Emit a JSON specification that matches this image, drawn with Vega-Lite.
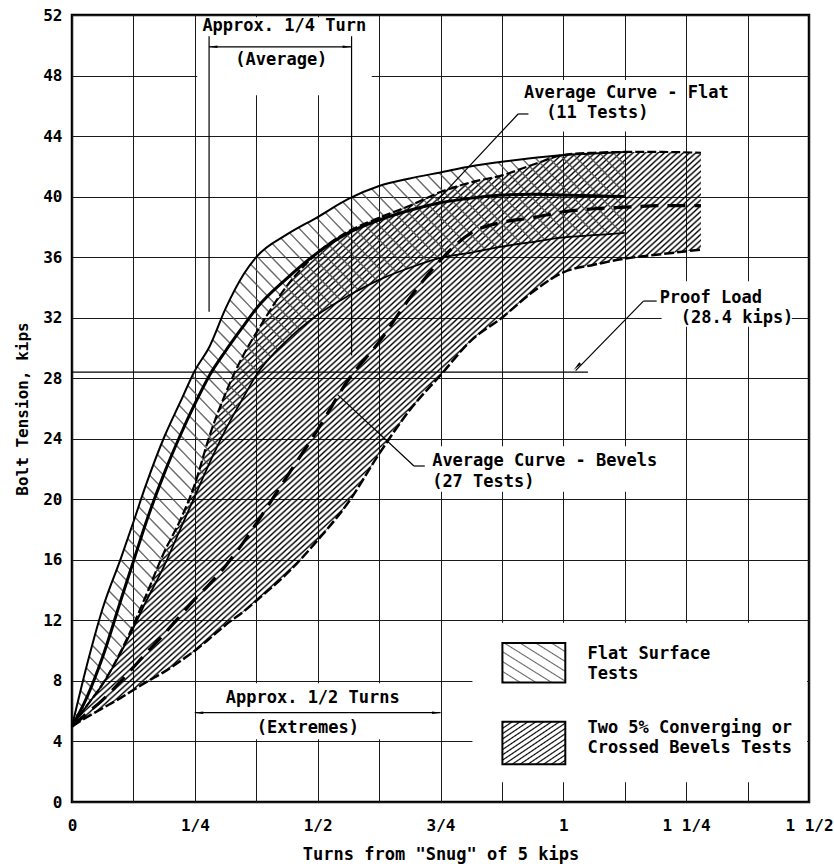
{
  "$schema": "https://vega.github.io/schema/vega-lite/v6.json",
  "width": 737,
  "height": 787,
  "autosize": {"type": "none"},
  "padding": {"left": 72, "top": 15, "right": 25, "bottom": 62},
  "background": "#ffffff",
  "config": {
    "view": {"stroke": "#000000", "strokeWidth": 2.5},
    "font": "DejaVu Sans Mono"
  },
  "datasets": {
    "bands": [
      {"t": 0, "fu": 5, "fa": 5, "fl": 5, "bu": 5, "ba": 5, "bl": 5},
      {"t": 0.03, "fu": 9.0, "fa": 6.9, "fl": 6.35, "bu": 6.35, "ba": 5.85, "bl": 5.6},
      {"t": 0.0625, "fu": 12.8, "fa": 9.6, "fl": 7.8, "bu": 7.8, "ba": 6.75, "bl": 6.2},
      {"t": 0.1, "fu": 16.15, "fa": 13.4, "fl": 9.9, "bu": 10.0, "ba": 8.0, "bl": 6.9},
      {"t": 0.125, "fu": 18.5, "fa": 15.9, "fl": 11.5, "bu": 11.7, "ba": 8.9, "bl": 7.4},
      {"t": 0.15, "fu": 20.9, "fa": 18.4, "fl": 13.2, "bu": 13.6, "ba": 9.8, "bl": 7.9},
      {"t": 0.1875, "fu": 24.1, "fa": 21.7, "fl": 15.6, "bu": 16.5, "ba": 11.1, "bl": 8.6},
      {"t": 0.22, "fu": 26.4, "fa": 24.2, "fl": 18.0, "bu": 18.6, "ba": 12.3, "bl": 9.3},
      {"t": 0.25, "fu": 28.5, "fa": 26.3, "fl": 20.2, "bu": 21.0, "ba": 13.4, "bl": 10.0},
      {"t": 0.28, "fu": 30.1, "fa": 28.2, "fl": 22.4, "bu": 24.2, "ba": 14.4, "bl": 10.8},
      {"t": 0.3125, "fu": 32.6, "fa": 29.8, "fl": 24.6, "bu": 27.0, "ba": 15.6, "bl": 11.7},
      {"t": 0.35, "fu": 34.9, "fa": 31.5, "fl": 26.8, "bu": 29.6, "ba": 17.2, "bl": 12.6},
      {"t": 0.375, "fu": 36.0, "fa": 32.6, "fl": 28.2, "bu": 31.0, "ba": 18.4, "bl": 13.3},
      {"t": 0.4375, "fu": 37.5, "fa": 34.6, "fl": 30.5, "bu": 34.1, "ba": 21.5, "bl": 15.1},
      {"t": 0.5, "fu": 38.65, "fa": 36.3, "fl": 32.2, "bu": 36.3, "ba": 24.6, "bl": 17.3},
      {"t": 0.5625, "fu": 39.85, "fa": 37.6, "fl": 33.45, "bu": 37.7, "ba": 27.9, "bl": 19.8},
      {"t": 0.625, "fu": 40.7, "fa": 38.45, "fl": 34.5, "bu": 38.6, "ba": 30.4, "bl": 23.0},
      {"t": 0.6875, "fu": 41.2, "fa": 39.1, "fl": 35.3, "bu": 39.4, "ba": 33.3, "bl": 25.9},
      {"t": 0.75, "fu": 41.6, "fa": 39.6, "fl": 35.95, "bu": 40.3, "ba": 35.8, "bl": 28.2},
      {"t": 0.8125, "fu": 42.0, "fa": 39.9, "fl": 36.3, "bu": 40.95, "ba": 37.6, "bl": 30.5},
      {"t": 0.875, "fu": 42.3, "fa": 40.1, "fl": 36.7, "bu": 41.4, "ba": 38.3, "bl": 32.0},
      {"t": 0.9375, "fu": 42.55, "fa": 40.15, "fl": 37.0, "bu": 42.1, "ba": 38.6, "bl": 33.7},
      {"t": 1.0, "fu": 42.75, "fa": 40.1, "fl": 37.3, "bu": 42.75, "ba": 39.0, "bl": 35.0},
      {"t": 1.0625, "fu": 42.85, "fa": 40.05, "fl": 37.45, "bu": 42.9, "ba": 39.2, "bl": 35.5},
      {"t": 1.125, "fu": 42.95, "fa": 40.0, "fl": 37.6, "bu": 42.95, "ba": 39.3, "bl": 35.9},
      {"t": 1.2, "fu": null, "fa": null, "fl": null, "bu": 42.95, "ba": 39.4, "bl": 36.2},
      {"t": 1.28, "fu": null, "fa": null, "fl": null, "bu": 42.9, "ba": 39.4, "bl": 36.5}
    ],
    "boxes": [
      {"t1": 0.255, "t2": 0.61, "k1": 46.7, "k2": 51.85},
      {"t1": 0.9, "t2": 1.24, "k1": 44.3, "k2": 47.7},
      {"t1": 0.725, "t2": 1.2, "k1": 20.5, "k2": 23.5},
      {"t1": 1.2, "t2": 1.465, "k1": 31.4, "k2": 34.4},
      {"t1": 0.26, "t2": 0.74, "k1": 4.15, "k2": 7.85},
      {"t1": 0.815, "t2": 1.496, "k1": 1.3, "k2": 11.85}
    ],
    "rules": [
      {"t1": 0, "t2": 1.05, "k1": 28.4, "k2": 28.4},
      {"t1": 0.279, "t2": 0.568, "k1": 49.9, "k2": 49.9},
      {"t1": 0.279, "t2": 0.279, "k1": 50.6, "k2": 32.4},
      {"t1": 0.569, "t2": 0.569, "k1": 50.6, "k2": 29.5},
      {"t1": 0.25, "t2": 0.75, "k1": 5.9, "k2": 5.9},
      {"t1": 0.929, "t2": 0.908, "k1": 45.46, "k2": 45.46},
      {"t1": 0.908, "t2": 0.745, "k1": 45.46, "k2": 39.8},
      {"t1": 0.718, "t2": 0.696, "k1": 22.2, "k2": 22.2},
      {"t1": 0.696, "t2": 0.541, "k1": 22.2, "k2": 26.9},
      {"t1": 1.19, "t2": 1.163, "k1": 33.1, "k2": 33.1},
      {"t1": 1.163, "t2": 1.025, "k1": 33.1, "k2": 28.5}
    ],
    "arrows": [
      {"t": 0.29, "k": 49.9, "a": 270},
      {"t": 0.557, "k": 49.9, "a": 90},
      {"t": 0.261, "k": 5.9, "a": 270},
      {"t": 0.739, "k": 5.9, "a": 90},
      {"t": 1.03, "k": 28.85, "a": 225}
    ],
    "labelsC": [
      {"text": "Approx. 1/4 Turn", "t": 0.432, "k": 51.3},
      {"text": "(Average)", "t": 0.426, "k": 49.0},
      {"text": "Approx. 1/2 Turns", "t": 0.49, "k": 6.9},
      {"text": "(Extremes)", "t": 0.48, "k": 4.9}
    ],
    "labelsL": [
      {"text": "Average Curve - Flat", "t": 0.92, "k": 46.85},
      {"text": "(11 Tests)", "t": 0.965, "k": 45.5},
      {"text": "Proof Load", "t": 1.196, "k": 33.3},
      {"text": "(28.4 kips)", "t": 1.239, "k": 32.0},
      {"text": "Average Curve - Bevels", "t": 0.733, "k": 22.5},
      {"text": "(27 Tests)", "t": 0.733, "k": 21.15},
      {"text": "Flat Surface", "t": 1.049, "k": 9.8},
      {"text": "Tests", "t": 1.049, "k": 8.45},
      {"text": "Two 5% Converging or", "t": 1.049, "k": 4.9},
      {"text": "Crossed Bevels Tests", "t": 1.049, "k": 3.55}
    ],
    "swatches": [
      {"kind": "Flat Surface Tests", "t1": 0.876, "t2": 1.004, "k1": 7.9, "k2": 10.5},
      {"kind": "Two 5% Converging or Crossed Bevels Tests", "t1": 0.876, "t2": 1.004, "k1": 2.5, "k2": 5.3}
    ]
  },
  "layer": [
    {
      "data": {"name": "boxes"},
      "mark": {"type": "rect", "fill": "#ffffff", "strokeWidth": 0},
      "encoding": {
        "x": {
          "field": "t1", "type": "quantitative", "title": "Turns from \"Snug\" of 5 kips",
          "scale": {"domain": [0, 1.5], "nice": false, "zero": false},
          "axis": {
            "values": [0, 0.125, 0.25, 0.375, 0.5, 0.625, 0.75, 0.875, 1, 1.125, 1.25, 1.375, 1.5],
            "labelExpr": "datum.value === 0 ? '0' : datum.value === 0.25 ? '1/4' : datum.value === 0.5 ? '1/2' : datum.value === 0.75 ? '3/4' : datum.value === 1 ? '1' : datum.value === 1.25 ? '1 1/4' : datum.value === 1.5 ? '1 1/2' : ''",
            "grid": true, "gridColor": "#1a1a1a", "gridWidth": 1, "gridOpacity": 1,
            "ticks": false, "domain": false,
            "labelFont": "DejaVu Sans Mono", "labelFontWeight": "bold", "labelFontSize": 16, "labelColor": "#000000",
            "labelPadding": 15, "labelOverlap": false, "labelFlush": false,
            "titleFont": "DejaVu Sans Mono", "titleFontWeight": "bold", "titleFontSize": 17, "titleColor": "#000000",
            "titlePadding": 13
          }
        },
        "x2": {"field": "t2"},
        "y": {
          "field": "k1", "type": "quantitative", "title": "Bolt Tension, kips",
          "scale": {"domain": [0, 52], "nice": false, "zero": false},
          "axis": {
            "values": [0, 4, 8, 12, 16, 20, 24, 28, 32, 36, 40, 44, 48, 52],
            "grid": true, "gridColor": "#1a1a1a", "gridWidth": 1, "gridOpacity": 1,
            "ticks": false, "domain": false,
            "labelFont": "DejaVu Sans Mono", "labelFontWeight": "bold", "labelFontSize": 16, "labelColor": "#000000",
            "labelPadding": 10, "labelOverlap": false, "labelFlush": false,
            "titleFont": "DejaVu Sans Mono", "titleFontWeight": "bold", "titleFontSize": 16, "titleColor": "#000000",
            "titlePadding": 12
          }
        },
        "y2": {"field": "k2"}
      }
    },
    {
      "data": {"name": "bands"},
      "mark": {
        "type": "area", "interpolate": "monotone",
        "fill": {
          "gradient": "linear", "x1": 0, "y1": 0, "x2": 1, "y2": 1,
          "stops": [
            {"offset": 0, "color": "transparent"}, {"offset": 0.0017, "color": "#000"}, {"offset": 0.0034, "color": "transparent"}, {"offset": 0.005, "color": "transparent"}, {"offset": 0.0067, "color": "#000"}, {"offset": 0.0084, "color": "transparent"},
            {"offset": 0.01, "color": "transparent"}, {"offset": 0.0117, "color": "#000"}, {"offset": 0.0134, "color": "transparent"}, {"offset": 0.015, "color": "transparent"}, {"offset": 0.0167, "color": "#000"}, {"offset": 0.0184, "color": "transparent"},
            {"offset": 0.02, "color": "transparent"}, {"offset": 0.0217, "color": "#000"}, {"offset": 0.0234, "color": "transparent"}, {"offset": 0.025, "color": "transparent"}, {"offset": 0.0267, "color": "#000"}, {"offset": 0.0284, "color": "transparent"},
            {"offset": 0.03, "color": "transparent"}, {"offset": 0.0317, "color": "#000"}, {"offset": 0.0334, "color": "transparent"}, {"offset": 0.035, "color": "transparent"}, {"offset": 0.0367, "color": "#000"}, {"offset": 0.0384, "color": "transparent"},
            {"offset": 0.04, "color": "transparent"}, {"offset": 0.0417, "color": "#000"}, {"offset": 0.0434, "color": "transparent"}, {"offset": 0.045, "color": "transparent"}, {"offset": 0.0467, "color": "#000"}, {"offset": 0.0484, "color": "transparent"},
            {"offset": 0.05, "color": "transparent"}, {"offset": 0.0517, "color": "#000"}, {"offset": 0.0534, "color": "transparent"}, {"offset": 0.055, "color": "transparent"}, {"offset": 0.0567, "color": "#000"}, {"offset": 0.0584, "color": "transparent"},
            {"offset": 0.06, "color": "transparent"}, {"offset": 0.0617, "color": "#000"}, {"offset": 0.0634, "color": "transparent"}, {"offset": 0.065, "color": "transparent"}, {"offset": 0.0667, "color": "#000"}, {"offset": 0.0684, "color": "transparent"},
            {"offset": 0.07, "color": "transparent"}, {"offset": 0.0717, "color": "#000"}, {"offset": 0.0734, "color": "transparent"}, {"offset": 0.075, "color": "transparent"}, {"offset": 0.0767, "color": "#000"}, {"offset": 0.0784, "color": "transparent"},
            {"offset": 0.08, "color": "transparent"}, {"offset": 0.0817, "color": "#000"}, {"offset": 0.0834, "color": "transparent"}, {"offset": 0.085, "color": "transparent"}, {"offset": 0.0867, "color": "#000"}, {"offset": 0.0884, "color": "transparent"},
            {"offset": 0.09, "color": "transparent"}, {"offset": 0.0917, "color": "#000"}, {"offset": 0.0934, "color": "transparent"}, {"offset": 0.095, "color": "transparent"}, {"offset": 0.0967, "color": "#000"}, {"offset": 0.0984, "color": "transparent"},
            {"offset": 0.1, "color": "transparent"}, {"offset": 0.1017, "color": "#000"}, {"offset": 0.1034, "color": "transparent"}, {"offset": 0.105, "color": "transparent"}, {"offset": 0.1067, "color": "#000"}, {"offset": 0.1084, "color": "transparent"},
            {"offset": 0.11, "color": "transparent"}, {"offset": 0.1117, "color": "#000"}, {"offset": 0.1134, "color": "transparent"}, {"offset": 0.115, "color": "transparent"}, {"offset": 0.1167, "color": "#000"}, {"offset": 0.1184, "color": "transparent"},
            {"offset": 0.12, "color": "transparent"}, {"offset": 0.1217, "color": "#000"}, {"offset": 0.1234, "color": "transparent"}, {"offset": 0.125, "color": "transparent"}, {"offset": 0.1267, "color": "#000"}, {"offset": 0.1284, "color": "transparent"},
            {"offset": 0.13, "color": "transparent"}, {"offset": 0.1317, "color": "#000"}, {"offset": 0.1334, "color": "transparent"}, {"offset": 0.135, "color": "transparent"}, {"offset": 0.1367, "color": "#000"}, {"offset": 0.1384, "color": "transparent"},
            {"offset": 0.14, "color": "transparent"}, {"offset": 0.1417, "color": "#000"}, {"offset": 0.1434, "color": "transparent"}, {"offset": 0.145, "color": "transparent"}, {"offset": 0.1467, "color": "#000"}, {"offset": 0.1484, "color": "transparent"},
            {"offset": 0.15, "color": "transparent"}, {"offset": 0.1517, "color": "#000"}, {"offset": 0.1534, "color": "transparent"}, {"offset": 0.155, "color": "transparent"}, {"offset": 0.1567, "color": "#000"}, {"offset": 0.1584, "color": "transparent"},
            {"offset": 0.16, "color": "transparent"}, {"offset": 0.1617, "color": "#000"}, {"offset": 0.1634, "color": "transparent"}, {"offset": 0.165, "color": "transparent"}, {"offset": 0.1667, "color": "#000"}, {"offset": 0.1684, "color": "transparent"},
            {"offset": 0.17, "color": "transparent"}, {"offset": 0.1717, "color": "#000"}, {"offset": 0.1734, "color": "transparent"}, {"offset": 0.175, "color": "transparent"}, {"offset": 0.1767, "color": "#000"}, {"offset": 0.1784, "color": "transparent"},
            {"offset": 0.18, "color": "transparent"}, {"offset": 0.1817, "color": "#000"}, {"offset": 0.1834, "color": "transparent"}, {"offset": 0.185, "color": "transparent"}, {"offset": 0.1867, "color": "#000"}, {"offset": 0.1884, "color": "transparent"},
            {"offset": 0.19, "color": "transparent"}, {"offset": 0.1917, "color": "#000"}, {"offset": 0.1934, "color": "transparent"}, {"offset": 0.195, "color": "transparent"}, {"offset": 0.1967, "color": "#000"}, {"offset": 0.1984, "color": "transparent"},
            {"offset": 0.2, "color": "transparent"}, {"offset": 0.2017, "color": "#000"}, {"offset": 0.2034, "color": "transparent"}, {"offset": 0.205, "color": "transparent"}, {"offset": 0.2067, "color": "#000"}, {"offset": 0.2084, "color": "transparent"},
            {"offset": 0.21, "color": "transparent"}, {"offset": 0.2117, "color": "#000"}, {"offset": 0.2134, "color": "transparent"}, {"offset": 0.215, "color": "transparent"}, {"offset": 0.2167, "color": "#000"}, {"offset": 0.2184, "color": "transparent"},
            {"offset": 0.22, "color": "transparent"}, {"offset": 0.2217, "color": "#000"}, {"offset": 0.2234, "color": "transparent"}, {"offset": 0.225, "color": "transparent"}, {"offset": 0.2267, "color": "#000"}, {"offset": 0.2284, "color": "transparent"},
            {"offset": 0.23, "color": "transparent"}, {"offset": 0.2317, "color": "#000"}, {"offset": 0.2334, "color": "transparent"}, {"offset": 0.235, "color": "transparent"}, {"offset": 0.2367, "color": "#000"}, {"offset": 0.2384, "color": "transparent"},
            {"offset": 0.24, "color": "transparent"}, {"offset": 0.2417, "color": "#000"}, {"offset": 0.2434, "color": "transparent"}, {"offset": 0.245, "color": "transparent"}, {"offset": 0.2467, "color": "#000"}, {"offset": 0.2484, "color": "transparent"},
            {"offset": 0.25, "color": "transparent"}, {"offset": 0.2517, "color": "#000"}, {"offset": 0.2534, "color": "transparent"}, {"offset": 0.255, "color": "transparent"}, {"offset": 0.2567, "color": "#000"}, {"offset": 0.2584, "color": "transparent"},
            {"offset": 0.26, "color": "transparent"}, {"offset": 0.2617, "color": "#000"}, {"offset": 0.2634, "color": "transparent"}, {"offset": 0.265, "color": "transparent"}, {"offset": 0.2667, "color": "#000"}, {"offset": 0.2684, "color": "transparent"},
            {"offset": 0.27, "color": "transparent"}, {"offset": 0.2717, "color": "#000"}, {"offset": 0.2734, "color": "transparent"}, {"offset": 0.275, "color": "transparent"}, {"offset": 0.2767, "color": "#000"}, {"offset": 0.2784, "color": "transparent"},
            {"offset": 0.28, "color": "transparent"}, {"offset": 0.2817, "color": "#000"}, {"offset": 0.2834, "color": "transparent"}, {"offset": 0.285, "color": "transparent"}, {"offset": 0.2867, "color": "#000"}, {"offset": 0.2884, "color": "transparent"},
            {"offset": 0.29, "color": "transparent"}, {"offset": 0.2917, "color": "#000"}, {"offset": 0.2934, "color": "transparent"}, {"offset": 0.295, "color": "transparent"}, {"offset": 0.2967, "color": "#000"}, {"offset": 0.2984, "color": "transparent"},
            {"offset": 0.3, "color": "transparent"}, {"offset": 0.3017, "color": "#000"}, {"offset": 0.3034, "color": "transparent"}, {"offset": 0.305, "color": "transparent"}, {"offset": 0.3067, "color": "#000"}, {"offset": 0.3084, "color": "transparent"},
            {"offset": 0.31, "color": "transparent"}, {"offset": 0.3117, "color": "#000"}, {"offset": 0.3134, "color": "transparent"}, {"offset": 0.315, "color": "transparent"}, {"offset": 0.3167, "color": "#000"}, {"offset": 0.3184, "color": "transparent"},
            {"offset": 0.32, "color": "transparent"}, {"offset": 0.3217, "color": "#000"}, {"offset": 0.3234, "color": "transparent"}, {"offset": 0.325, "color": "transparent"}, {"offset": 0.3267, "color": "#000"}, {"offset": 0.3284, "color": "transparent"},
            {"offset": 0.33, "color": "transparent"}, {"offset": 0.3317, "color": "#000"}, {"offset": 0.3334, "color": "transparent"}, {"offset": 0.335, "color": "transparent"}, {"offset": 0.3367, "color": "#000"}, {"offset": 0.3384, "color": "transparent"},
            {"offset": 0.34, "color": "transparent"}, {"offset": 0.3417, "color": "#000"}, {"offset": 0.3434, "color": "transparent"}, {"offset": 0.345, "color": "transparent"}, {"offset": 0.3467, "color": "#000"}, {"offset": 0.3484, "color": "transparent"},
            {"offset": 0.35, "color": "transparent"}, {"offset": 0.3517, "color": "#000"}, {"offset": 0.3534, "color": "transparent"}, {"offset": 0.355, "color": "transparent"}, {"offset": 0.3567, "color": "#000"}, {"offset": 0.3584, "color": "transparent"},
            {"offset": 0.36, "color": "transparent"}, {"offset": 0.3617, "color": "#000"}, {"offset": 0.3634, "color": "transparent"}, {"offset": 0.365, "color": "transparent"}, {"offset": 0.3667, "color": "#000"}, {"offset": 0.3684, "color": "transparent"},
            {"offset": 0.37, "color": "transparent"}, {"offset": 0.3717, "color": "#000"}, {"offset": 0.3734, "color": "transparent"}, {"offset": 0.375, "color": "transparent"}, {"offset": 0.3767, "color": "#000"}, {"offset": 0.3784, "color": "transparent"},
            {"offset": 0.38, "color": "transparent"}, {"offset": 0.3817, "color": "#000"}, {"offset": 0.3834, "color": "transparent"}, {"offset": 0.385, "color": "transparent"}, {"offset": 0.3867, "color": "#000"}, {"offset": 0.3884, "color": "transparent"},
            {"offset": 0.39, "color": "transparent"}, {"offset": 0.3917, "color": "#000"}, {"offset": 0.3934, "color": "transparent"}, {"offset": 0.395, "color": "transparent"}, {"offset": 0.3967, "color": "#000"}, {"offset": 0.3984, "color": "transparent"},
            {"offset": 0.4, "color": "transparent"}, {"offset": 0.4017, "color": "#000"}, {"offset": 0.4034, "color": "transparent"}, {"offset": 0.405, "color": "transparent"}, {"offset": 0.4067, "color": "#000"}, {"offset": 0.4084, "color": "transparent"},
            {"offset": 0.41, "color": "transparent"}, {"offset": 0.4117, "color": "#000"}, {"offset": 0.4134, "color": "transparent"}, {"offset": 0.415, "color": "transparent"}, {"offset": 0.4167, "color": "#000"}, {"offset": 0.4184, "color": "transparent"},
            {"offset": 0.42, "color": "transparent"}, {"offset": 0.4217, "color": "#000"}, {"offset": 0.4234, "color": "transparent"}, {"offset": 0.425, "color": "transparent"}, {"offset": 0.4267, "color": "#000"}, {"offset": 0.4284, "color": "transparent"},
            {"offset": 0.43, "color": "transparent"}, {"offset": 0.4317, "color": "#000"}, {"offset": 0.4334, "color": "transparent"}, {"offset": 0.435, "color": "transparent"}, {"offset": 0.4367, "color": "#000"}, {"offset": 0.4384, "color": "transparent"},
            {"offset": 0.44, "color": "transparent"}, {"offset": 0.4417, "color": "#000"}, {"offset": 0.4434, "color": "transparent"}, {"offset": 0.445, "color": "transparent"}, {"offset": 0.4467, "color": "#000"}, {"offset": 0.4484, "color": "transparent"},
            {"offset": 0.45, "color": "transparent"}, {"offset": 0.4517, "color": "#000"}, {"offset": 0.4534, "color": "transparent"}, {"offset": 0.455, "color": "transparent"}, {"offset": 0.4567, "color": "#000"}, {"offset": 0.4584, "color": "transparent"},
            {"offset": 0.46, "color": "transparent"}, {"offset": 0.4617, "color": "#000"}, {"offset": 0.4634, "color": "transparent"}, {"offset": 0.465, "color": "transparent"}, {"offset": 0.4667, "color": "#000"}, {"offset": 0.4684, "color": "transparent"},
            {"offset": 0.47, "color": "transparent"}, {"offset": 0.4717, "color": "#000"}, {"offset": 0.4734, "color": "transparent"}, {"offset": 0.475, "color": "transparent"}, {"offset": 0.4767, "color": "#000"}, {"offset": 0.4784, "color": "transparent"},
            {"offset": 0.48, "color": "transparent"}, {"offset": 0.4817, "color": "#000"}, {"offset": 0.4834, "color": "transparent"}, {"offset": 0.485, "color": "transparent"}, {"offset": 0.4867, "color": "#000"}, {"offset": 0.4884, "color": "transparent"},
            {"offset": 0.49, "color": "transparent"}, {"offset": 0.4917, "color": "#000"}, {"offset": 0.4934, "color": "transparent"}, {"offset": 0.495, "color": "transparent"}, {"offset": 0.4967, "color": "#000"}, {"offset": 0.4984, "color": "transparent"},
            {"offset": 0.5, "color": "transparent"}, {"offset": 0.5017, "color": "#000"}, {"offset": 0.5034, "color": "transparent"}, {"offset": 0.505, "color": "transparent"}, {"offset": 0.5067, "color": "#000"}, {"offset": 0.5084, "color": "transparent"},
            {"offset": 0.51, "color": "transparent"}, {"offset": 0.5117, "color": "#000"}, {"offset": 0.5134, "color": "transparent"}, {"offset": 0.515, "color": "transparent"}, {"offset": 0.5167, "color": "#000"}, {"offset": 0.5184, "color": "transparent"},
            {"offset": 0.52, "color": "transparent"}, {"offset": 0.5217, "color": "#000"}, {"offset": 0.5234, "color": "transparent"}, {"offset": 0.525, "color": "transparent"}, {"offset": 0.5267, "color": "#000"}, {"offset": 0.5284, "color": "transparent"},
            {"offset": 0.53, "color": "transparent"}, {"offset": 0.5317, "color": "#000"}, {"offset": 0.5334, "color": "transparent"}, {"offset": 0.535, "color": "transparent"}, {"offset": 0.5367, "color": "#000"}, {"offset": 0.5384, "color": "transparent"},
            {"offset": 0.54, "color": "transparent"}, {"offset": 0.5417, "color": "#000"}, {"offset": 0.5434, "color": "transparent"}, {"offset": 0.545, "color": "transparent"}, {"offset": 0.5467, "color": "#000"}, {"offset": 0.5484, "color": "transparent"},
            {"offset": 0.55, "color": "transparent"}, {"offset": 0.5517, "color": "#000"}, {"offset": 0.5534, "color": "transparent"}, {"offset": 0.555, "color": "transparent"}, {"offset": 0.5567, "color": "#000"}, {"offset": 0.5584, "color": "transparent"},
            {"offset": 0.56, "color": "transparent"}, {"offset": 0.5617, "color": "#000"}, {"offset": 0.5634, "color": "transparent"}, {"offset": 0.565, "color": "transparent"}, {"offset": 0.5667, "color": "#000"}, {"offset": 0.5684, "color": "transparent"},
            {"offset": 0.57, "color": "transparent"}, {"offset": 0.5717, "color": "#000"}, {"offset": 0.5734, "color": "transparent"}, {"offset": 0.575, "color": "transparent"}, {"offset": 0.5767, "color": "#000"}, {"offset": 0.5784, "color": "transparent"},
            {"offset": 0.58, "color": "transparent"}, {"offset": 0.5817, "color": "#000"}, {"offset": 0.5834, "color": "transparent"}, {"offset": 0.585, "color": "transparent"}, {"offset": 0.5867, "color": "#000"}, {"offset": 0.5884, "color": "transparent"},
            {"offset": 0.59, "color": "transparent"}, {"offset": 0.5917, "color": "#000"}, {"offset": 0.5934, "color": "transparent"}, {"offset": 0.595, "color": "transparent"}, {"offset": 0.5967, "color": "#000"}, {"offset": 0.5984, "color": "transparent"},
            {"offset": 0.6, "color": "transparent"}, {"offset": 0.6017, "color": "#000"}, {"offset": 0.6034, "color": "transparent"}, {"offset": 0.605, "color": "transparent"}, {"offset": 0.6067, "color": "#000"}, {"offset": 0.6084, "color": "transparent"},
            {"offset": 0.61, "color": "transparent"}, {"offset": 0.6117, "color": "#000"}, {"offset": 0.6134, "color": "transparent"}, {"offset": 0.615, "color": "transparent"}, {"offset": 0.6167, "color": "#000"}, {"offset": 0.6184, "color": "transparent"},
            {"offset": 0.62, "color": "transparent"}, {"offset": 0.6217, "color": "#000"}, {"offset": 0.6234, "color": "transparent"}, {"offset": 0.625, "color": "transparent"}, {"offset": 0.6267, "color": "#000"}, {"offset": 0.6284, "color": "transparent"},
            {"offset": 0.63, "color": "transparent"}, {"offset": 0.6317, "color": "#000"}, {"offset": 0.6334, "color": "transparent"}, {"offset": 0.635, "color": "transparent"}, {"offset": 0.6367, "color": "#000"}, {"offset": 0.6384, "color": "transparent"},
            {"offset": 0.64, "color": "transparent"}, {"offset": 0.6417, "color": "#000"}, {"offset": 0.6434, "color": "transparent"}, {"offset": 0.645, "color": "transparent"}, {"offset": 0.6467, "color": "#000"}, {"offset": 0.6484, "color": "transparent"},
            {"offset": 0.65, "color": "transparent"}, {"offset": 0.6517, "color": "#000"}, {"offset": 0.6534, "color": "transparent"}, {"offset": 0.655, "color": "transparent"}, {"offset": 0.6567, "color": "#000"}, {"offset": 0.6584, "color": "transparent"},
            {"offset": 0.66, "color": "transparent"}, {"offset": 0.6617, "color": "#000"}, {"offset": 0.6634, "color": "transparent"}, {"offset": 0.665, "color": "transparent"}, {"offset": 0.6667, "color": "#000"}, {"offset": 0.6684, "color": "transparent"},
            {"offset": 0.67, "color": "transparent"}, {"offset": 0.6717, "color": "#000"}, {"offset": 0.6734, "color": "transparent"}, {"offset": 0.675, "color": "transparent"}, {"offset": 0.6767, "color": "#000"}, {"offset": 0.6784, "color": "transparent"},
            {"offset": 0.68, "color": "transparent"}, {"offset": 0.6817, "color": "#000"}, {"offset": 0.6834, "color": "transparent"}, {"offset": 0.685, "color": "transparent"}, {"offset": 0.6867, "color": "#000"}, {"offset": 0.6884, "color": "transparent"},
            {"offset": 0.69, "color": "transparent"}, {"offset": 0.6917, "color": "#000"}, {"offset": 0.6934, "color": "transparent"}, {"offset": 0.695, "color": "transparent"}, {"offset": 0.6967, "color": "#000"}, {"offset": 0.6984, "color": "transparent"},
            {"offset": 0.7, "color": "transparent"}, {"offset": 0.7017, "color": "#000"}, {"offset": 0.7034, "color": "transparent"}, {"offset": 0.705, "color": "transparent"}, {"offset": 0.7067, "color": "#000"}, {"offset": 0.7084, "color": "transparent"},
            {"offset": 0.71, "color": "transparent"}, {"offset": 0.7117, "color": "#000"}, {"offset": 0.7134, "color": "transparent"}, {"offset": 0.715, "color": "transparent"}, {"offset": 0.7167, "color": "#000"}, {"offset": 0.7184, "color": "transparent"},
            {"offset": 0.72, "color": "transparent"}, {"offset": 0.7217, "color": "#000"}, {"offset": 0.7234, "color": "transparent"}, {"offset": 0.725, "color": "transparent"}, {"offset": 0.7267, "color": "#000"}, {"offset": 0.7284, "color": "transparent"},
            {"offset": 0.73, "color": "transparent"}, {"offset": 0.7317, "color": "#000"}, {"offset": 0.7334, "color": "transparent"}, {"offset": 0.735, "color": "transparent"}, {"offset": 0.7367, "color": "#000"}, {"offset": 0.7384, "color": "transparent"},
            {"offset": 0.74, "color": "transparent"}, {"offset": 0.7417, "color": "#000"}, {"offset": 0.7434, "color": "transparent"}, {"offset": 0.745, "color": "transparent"}, {"offset": 0.7467, "color": "#000"}, {"offset": 0.7484, "color": "transparent"},
            {"offset": 0.75, "color": "transparent"}, {"offset": 0.7517, "color": "#000"}, {"offset": 0.7534, "color": "transparent"}, {"offset": 0.755, "color": "transparent"}, {"offset": 0.7567, "color": "#000"}, {"offset": 0.7584, "color": "transparent"},
            {"offset": 0.76, "color": "transparent"}, {"offset": 0.7617, "color": "#000"}, {"offset": 0.7634, "color": "transparent"}, {"offset": 0.765, "color": "transparent"}, {"offset": 0.7667, "color": "#000"}, {"offset": 0.7684, "color": "transparent"},
            {"offset": 0.77, "color": "transparent"}, {"offset": 0.7717, "color": "#000"}, {"offset": 0.7734, "color": "transparent"}, {"offset": 0.775, "color": "transparent"}, {"offset": 0.7767, "color": "#000"}, {"offset": 0.7784, "color": "transparent"},
            {"offset": 0.78, "color": "transparent"}, {"offset": 0.7817, "color": "#000"}, {"offset": 0.7834, "color": "transparent"}, {"offset": 0.785, "color": "transparent"}, {"offset": 0.7867, "color": "#000"}, {"offset": 0.7884, "color": "transparent"},
            {"offset": 0.79, "color": "transparent"}, {"offset": 0.7917, "color": "#000"}, {"offset": 0.7934, "color": "transparent"}, {"offset": 0.795, "color": "transparent"}, {"offset": 0.7967, "color": "#000"}, {"offset": 0.7984, "color": "transparent"},
            {"offset": 0.8, "color": "transparent"}, {"offset": 0.8017, "color": "#000"}, {"offset": 0.8034, "color": "transparent"}, {"offset": 0.805, "color": "transparent"}, {"offset": 0.8067, "color": "#000"}, {"offset": 0.8084, "color": "transparent"},
            {"offset": 0.81, "color": "transparent"}, {"offset": 0.8117, "color": "#000"}, {"offset": 0.8134, "color": "transparent"}, {"offset": 0.815, "color": "transparent"}, {"offset": 0.8167, "color": "#000"}, {"offset": 0.8184, "color": "transparent"},
            {"offset": 0.82, "color": "transparent"}, {"offset": 0.8217, "color": "#000"}, {"offset": 0.8234, "color": "transparent"}, {"offset": 0.825, "color": "transparent"}, {"offset": 0.8267, "color": "#000"}, {"offset": 0.8284, "color": "transparent"},
            {"offset": 0.83, "color": "transparent"}, {"offset": 0.8317, "color": "#000"}, {"offset": 0.8334, "color": "transparent"}, {"offset": 0.835, "color": "transparent"}, {"offset": 0.8367, "color": "#000"}, {"offset": 0.8384, "color": "transparent"},
            {"offset": 0.84, "color": "transparent"}, {"offset": 0.8417, "color": "#000"}, {"offset": 0.8434, "color": "transparent"}, {"offset": 0.845, "color": "transparent"}, {"offset": 0.8467, "color": "#000"}, {"offset": 0.8484, "color": "transparent"},
            {"offset": 0.85, "color": "transparent"}, {"offset": 0.8517, "color": "#000"}, {"offset": 0.8534, "color": "transparent"}, {"offset": 0.855, "color": "transparent"}, {"offset": 0.8567, "color": "#000"}, {"offset": 0.8584, "color": "transparent"},
            {"offset": 0.86, "color": "transparent"}, {"offset": 0.8617, "color": "#000"}, {"offset": 0.8634, "color": "transparent"}, {"offset": 0.865, "color": "transparent"}, {"offset": 0.8667, "color": "#000"}, {"offset": 0.8684, "color": "transparent"},
            {"offset": 0.87, "color": "transparent"}, {"offset": 0.8717, "color": "#000"}, {"offset": 0.8734, "color": "transparent"}, {"offset": 0.875, "color": "transparent"}, {"offset": 0.8767, "color": "#000"}, {"offset": 0.8784, "color": "transparent"},
            {"offset": 0.88, "color": "transparent"}, {"offset": 0.8817, "color": "#000"}, {"offset": 0.8834, "color": "transparent"}, {"offset": 0.885, "color": "transparent"}, {"offset": 0.8867, "color": "#000"}, {"offset": 0.8884, "color": "transparent"},
            {"offset": 0.89, "color": "transparent"}, {"offset": 0.8917, "color": "#000"}, {"offset": 0.8934, "color": "transparent"}, {"offset": 0.895, "color": "transparent"}, {"offset": 0.8967, "color": "#000"}, {"offset": 0.8984, "color": "transparent"},
            {"offset": 0.9, "color": "transparent"}, {"offset": 0.9017, "color": "#000"}, {"offset": 0.9034, "color": "transparent"}, {"offset": 0.905, "color": "transparent"}, {"offset": 0.9067, "color": "#000"}, {"offset": 0.9084, "color": "transparent"},
            {"offset": 0.91, "color": "transparent"}, {"offset": 0.9117, "color": "#000"}, {"offset": 0.9134, "color": "transparent"}, {"offset": 0.915, "color": "transparent"}, {"offset": 0.9167, "color": "#000"}, {"offset": 0.9184, "color": "transparent"},
            {"offset": 0.92, "color": "transparent"}, {"offset": 0.9217, "color": "#000"}, {"offset": 0.9234, "color": "transparent"}, {"offset": 0.925, "color": "transparent"}, {"offset": 0.9267, "color": "#000"}, {"offset": 0.9284, "color": "transparent"},
            {"offset": 0.93, "color": "transparent"}, {"offset": 0.9317, "color": "#000"}, {"offset": 0.9334, "color": "transparent"}, {"offset": 0.935, "color": "transparent"}, {"offset": 0.9367, "color": "#000"}, {"offset": 0.9384, "color": "transparent"},
            {"offset": 0.94, "color": "transparent"}, {"offset": 0.9417, "color": "#000"}, {"offset": 0.9434, "color": "transparent"}, {"offset": 0.945, "color": "transparent"}, {"offset": 0.9467, "color": "#000"}, {"offset": 0.9484, "color": "transparent"},
            {"offset": 0.95, "color": "transparent"}, {"offset": 0.9517, "color": "#000"}, {"offset": 0.9534, "color": "transparent"}, {"offset": 0.955, "color": "transparent"}, {"offset": 0.9567, "color": "#000"}, {"offset": 0.9584, "color": "transparent"},
            {"offset": 0.96, "color": "transparent"}, {"offset": 0.9617, "color": "#000"}, {"offset": 0.9634, "color": "transparent"}, {"offset": 0.965, "color": "transparent"}, {"offset": 0.9667, "color": "#000"}, {"offset": 0.9684, "color": "transparent"},
            {"offset": 0.97, "color": "transparent"}, {"offset": 0.9717, "color": "#000"}, {"offset": 0.9734, "color": "transparent"}, {"offset": 0.975, "color": "transparent"}, {"offset": 0.9767, "color": "#000"}, {"offset": 0.9784, "color": "transparent"},
            {"offset": 0.98, "color": "transparent"}, {"offset": 0.9817, "color": "#000"}, {"offset": 0.9834, "color": "transparent"}, {"offset": 0.985, "color": "transparent"}, {"offset": 0.9867, "color": "#000"}, {"offset": 0.9884, "color": "transparent"},
            {"offset": 0.99, "color": "transparent"}, {"offset": 0.9917, "color": "#000"}, {"offset": 0.9934, "color": "transparent"}, {"offset": 0.995, "color": "transparent"}, {"offset": 0.9967, "color": "#000"}, {"offset": 0.9984, "color": "transparent"},
            {"offset": 1, "color": "transparent"}
          ]
        }
      },
      "encoding": {
        "x": {"field": "t", "type": "quantitative", "title": "Turns from \"Snug\" of 5 kips"},
        "y": {"field": "bu", "type": "quantitative", "title": "Bolt Tension, kips"},
        "y2": {"field": "bl"}
      }
    },
    {
      "data": {"name": "bands"},
      "mark": {
        "type": "area", "interpolate": "monotone",
        "fill": {
          "gradient": "linear", "x1": 0, "y1": 1, "x2": 1, "y2": 0,
          "stops": [
            {"offset": 0, "color": "transparent"}, {"offset": 0.0014, "color": "#666"}, {"offset": 0.0028, "color": "transparent"}, {"offset": 0.0125, "color": "transparent"}, {"offset": 0.0139, "color": "#666"}, {"offset": 0.0153, "color": "transparent"}, {"offset": 0.025, "color": "transparent"}, {"offset": 0.0264, "color": "#666"}, {"offset": 0.0278, "color": "transparent"}, {"offset": 0.0375, "color": "transparent"}, {"offset": 0.0389, "color": "#666"}, {"offset": 0.0403, "color": "transparent"},
            {"offset": 0.05, "color": "transparent"}, {"offset": 0.0514, "color": "#666"}, {"offset": 0.0528, "color": "transparent"}, {"offset": 0.0625, "color": "transparent"}, {"offset": 0.0639, "color": "#666"}, {"offset": 0.0653, "color": "transparent"}, {"offset": 0.075, "color": "transparent"}, {"offset": 0.0764, "color": "#666"}, {"offset": 0.0778, "color": "transparent"}, {"offset": 0.0875, "color": "transparent"}, {"offset": 0.0889, "color": "#666"}, {"offset": 0.0903, "color": "transparent"},
            {"offset": 0.1, "color": "transparent"}, {"offset": 0.1014, "color": "#666"}, {"offset": 0.1028, "color": "transparent"}, {"offset": 0.1125, "color": "transparent"}, {"offset": 0.1139, "color": "#666"}, {"offset": 0.1153, "color": "transparent"}, {"offset": 0.125, "color": "transparent"}, {"offset": 0.1264, "color": "#666"}, {"offset": 0.1278, "color": "transparent"}, {"offset": 0.1375, "color": "transparent"}, {"offset": 0.1389, "color": "#666"}, {"offset": 0.1403, "color": "transparent"},
            {"offset": 0.15, "color": "transparent"}, {"offset": 0.1514, "color": "#666"}, {"offset": 0.1528, "color": "transparent"}, {"offset": 0.1625, "color": "transparent"}, {"offset": 0.1639, "color": "#666"}, {"offset": 0.1653, "color": "transparent"}, {"offset": 0.175, "color": "transparent"}, {"offset": 0.1764, "color": "#666"}, {"offset": 0.1778, "color": "transparent"}, {"offset": 0.1875, "color": "transparent"}, {"offset": 0.1889, "color": "#666"}, {"offset": 0.1903, "color": "transparent"},
            {"offset": 0.2, "color": "transparent"}, {"offset": 0.2014, "color": "#666"}, {"offset": 0.2028, "color": "transparent"}, {"offset": 0.2125, "color": "transparent"}, {"offset": 0.2139, "color": "#666"}, {"offset": 0.2153, "color": "transparent"}, {"offset": 0.225, "color": "transparent"}, {"offset": 0.2264, "color": "#666"}, {"offset": 0.2278, "color": "transparent"}, {"offset": 0.2375, "color": "transparent"}, {"offset": 0.2389, "color": "#666"}, {"offset": 0.2403, "color": "transparent"},
            {"offset": 0.25, "color": "transparent"}, {"offset": 0.2514, "color": "#666"}, {"offset": 0.2528, "color": "transparent"}, {"offset": 0.2625, "color": "transparent"}, {"offset": 0.2639, "color": "#666"}, {"offset": 0.2653, "color": "transparent"}, {"offset": 0.275, "color": "transparent"}, {"offset": 0.2764, "color": "#666"}, {"offset": 0.2778, "color": "transparent"}, {"offset": 0.2875, "color": "transparent"}, {"offset": 0.2889, "color": "#666"}, {"offset": 0.2903, "color": "transparent"},
            {"offset": 0.3, "color": "transparent"}, {"offset": 0.3014, "color": "#666"}, {"offset": 0.3028, "color": "transparent"}, {"offset": 0.3125, "color": "transparent"}, {"offset": 0.3139, "color": "#666"}, {"offset": 0.3153, "color": "transparent"}, {"offset": 0.325, "color": "transparent"}, {"offset": 0.3264, "color": "#666"}, {"offset": 0.3278, "color": "transparent"}, {"offset": 0.3375, "color": "transparent"}, {"offset": 0.3389, "color": "#666"}, {"offset": 0.3403, "color": "transparent"},
            {"offset": 0.35, "color": "transparent"}, {"offset": 0.3514, "color": "#666"}, {"offset": 0.3528, "color": "transparent"}, {"offset": 0.3625, "color": "transparent"}, {"offset": 0.3639, "color": "#666"}, {"offset": 0.3653, "color": "transparent"}, {"offset": 0.375, "color": "transparent"}, {"offset": 0.3764, "color": "#666"}, {"offset": 0.3778, "color": "transparent"}, {"offset": 0.3875, "color": "transparent"}, {"offset": 0.3889, "color": "#666"}, {"offset": 0.3903, "color": "transparent"},
            {"offset": 0.4, "color": "transparent"}, {"offset": 0.4014, "color": "#666"}, {"offset": 0.4028, "color": "transparent"}, {"offset": 0.4125, "color": "transparent"}, {"offset": 0.4139, "color": "#666"}, {"offset": 0.4153, "color": "transparent"}, {"offset": 0.425, "color": "transparent"}, {"offset": 0.4264, "color": "#666"}, {"offset": 0.4278, "color": "transparent"}, {"offset": 0.4375, "color": "transparent"}, {"offset": 0.4389, "color": "#666"}, {"offset": 0.4403, "color": "transparent"},
            {"offset": 0.45, "color": "transparent"}, {"offset": 0.4514, "color": "#666"}, {"offset": 0.4528, "color": "transparent"}, {"offset": 0.4625, "color": "transparent"}, {"offset": 0.4639, "color": "#666"}, {"offset": 0.4653, "color": "transparent"}, {"offset": 0.475, "color": "transparent"}, {"offset": 0.4764, "color": "#666"}, {"offset": 0.4778, "color": "transparent"}, {"offset": 0.4875, "color": "transparent"}, {"offset": 0.4889, "color": "#666"}, {"offset": 0.4903, "color": "transparent"},
            {"offset": 0.5, "color": "transparent"}, {"offset": 0.5014, "color": "#666"}, {"offset": 0.5028, "color": "transparent"}, {"offset": 0.5125, "color": "transparent"}, {"offset": 0.5139, "color": "#666"}, {"offset": 0.5153, "color": "transparent"}, {"offset": 0.525, "color": "transparent"}, {"offset": 0.5264, "color": "#666"}, {"offset": 0.5278, "color": "transparent"}, {"offset": 0.5375, "color": "transparent"}, {"offset": 0.5389, "color": "#666"}, {"offset": 0.5403, "color": "transparent"},
            {"offset": 0.55, "color": "transparent"}, {"offset": 0.5514, "color": "#666"}, {"offset": 0.5528, "color": "transparent"}, {"offset": 0.5625, "color": "transparent"}, {"offset": 0.5639, "color": "#666"}, {"offset": 0.5653, "color": "transparent"}, {"offset": 0.575, "color": "transparent"}, {"offset": 0.5764, "color": "#666"}, {"offset": 0.5778, "color": "transparent"}, {"offset": 0.5875, "color": "transparent"}, {"offset": 0.5889, "color": "#666"}, {"offset": 0.5903, "color": "transparent"},
            {"offset": 0.6, "color": "transparent"}, {"offset": 0.6014, "color": "#666"}, {"offset": 0.6028, "color": "transparent"}, {"offset": 0.6125, "color": "transparent"}, {"offset": 0.6139, "color": "#666"}, {"offset": 0.6153, "color": "transparent"}, {"offset": 0.625, "color": "transparent"}, {"offset": 0.6264, "color": "#666"}, {"offset": 0.6278, "color": "transparent"}, {"offset": 0.6375, "color": "transparent"}, {"offset": 0.6389, "color": "#666"}, {"offset": 0.6403, "color": "transparent"},
            {"offset": 0.65, "color": "transparent"}, {"offset": 0.6514, "color": "#666"}, {"offset": 0.6528, "color": "transparent"}, {"offset": 0.6625, "color": "transparent"}, {"offset": 0.6639, "color": "#666"}, {"offset": 0.6653, "color": "transparent"}, {"offset": 0.675, "color": "transparent"}, {"offset": 0.6764, "color": "#666"}, {"offset": 0.6778, "color": "transparent"}, {"offset": 0.6875, "color": "transparent"}, {"offset": 0.6889, "color": "#666"}, {"offset": 0.6903, "color": "transparent"},
            {"offset": 0.7, "color": "transparent"}, {"offset": 0.7014, "color": "#666"}, {"offset": 0.7028, "color": "transparent"}, {"offset": 0.7125, "color": "transparent"}, {"offset": 0.7139, "color": "#666"}, {"offset": 0.7153, "color": "transparent"}, {"offset": 0.725, "color": "transparent"}, {"offset": 0.7264, "color": "#666"}, {"offset": 0.7278, "color": "transparent"}, {"offset": 0.7375, "color": "transparent"}, {"offset": 0.7389, "color": "#666"}, {"offset": 0.7403, "color": "transparent"},
            {"offset": 0.75, "color": "transparent"}, {"offset": 0.7514, "color": "#666"}, {"offset": 0.7528, "color": "transparent"}, {"offset": 0.7625, "color": "transparent"}, {"offset": 0.7639, "color": "#666"}, {"offset": 0.7653, "color": "transparent"}, {"offset": 0.775, "color": "transparent"}, {"offset": 0.7764, "color": "#666"}, {"offset": 0.7778, "color": "transparent"}, {"offset": 0.7875, "color": "transparent"}, {"offset": 0.7889, "color": "#666"}, {"offset": 0.7903, "color": "transparent"},
            {"offset": 0.8, "color": "transparent"}, {"offset": 0.8014, "color": "#666"}, {"offset": 0.8028, "color": "transparent"}, {"offset": 0.8125, "color": "transparent"}, {"offset": 0.8139, "color": "#666"}, {"offset": 0.8153, "color": "transparent"}, {"offset": 0.825, "color": "transparent"}, {"offset": 0.8264, "color": "#666"}, {"offset": 0.8278, "color": "transparent"}, {"offset": 0.8375, "color": "transparent"}, {"offset": 0.8389, "color": "#666"}, {"offset": 0.8403, "color": "transparent"},
            {"offset": 0.85, "color": "transparent"}, {"offset": 0.8514, "color": "#666"}, {"offset": 0.8528, "color": "transparent"}, {"offset": 0.8625, "color": "transparent"}, {"offset": 0.8639, "color": "#666"}, {"offset": 0.8653, "color": "transparent"}, {"offset": 0.875, "color": "transparent"}, {"offset": 0.8764, "color": "#666"}, {"offset": 0.8778, "color": "transparent"}, {"offset": 0.8875, "color": "transparent"}, {"offset": 0.8889, "color": "#666"}, {"offset": 0.8903, "color": "transparent"},
            {"offset": 0.9, "color": "transparent"}, {"offset": 0.9014, "color": "#666"}, {"offset": 0.9028, "color": "transparent"}, {"offset": 0.9125, "color": "transparent"}, {"offset": 0.9139, "color": "#666"}, {"offset": 0.9153, "color": "transparent"}, {"offset": 0.925, "color": "transparent"}, {"offset": 0.9264, "color": "#666"}, {"offset": 0.9278, "color": "transparent"}, {"offset": 0.9375, "color": "transparent"}, {"offset": 0.9389, "color": "#666"}, {"offset": 0.9403, "color": "transparent"},
            {"offset": 0.95, "color": "transparent"}, {"offset": 0.9514, "color": "#666"}, {"offset": 0.9528, "color": "transparent"}, {"offset": 0.9625, "color": "transparent"}, {"offset": 0.9639, "color": "#666"}, {"offset": 0.9653, "color": "transparent"}, {"offset": 0.975, "color": "transparent"}, {"offset": 0.9764, "color": "#666"}, {"offset": 0.9778, "color": "transparent"}, {"offset": 0.9875, "color": "transparent"}, {"offset": 0.9889, "color": "#666"}, {"offset": 0.9903, "color": "transparent"},
            {"offset": 1, "color": "transparent"}
          ]
        }
      },
      "encoding": {
        "x": {"field": "t", "type": "quantitative", "title": "Turns from \"Snug\" of 5 kips"},
        "y": {"field": "fu", "type": "quantitative", "title": "Bolt Tension, kips"},
        "y2": {"field": "fl"}
      }
    },
    {
      "data": {"name": "bands"},
      "mark": {"type": "line", "color": "#000000", "strokeWidth": 1.8, "interpolate": "monotone"},
      "encoding": {
        "x": {"field": "t", "type": "quantitative", "title": "Turns from \"Snug\" of 5 kips"},
        "y": {"field": "fl", "type": "quantitative", "title": "Bolt Tension, kips"}
      }
    },
    {
      "data": {"name": "bands"},
      "mark": {"type": "line", "color": "#000000", "strokeWidth": 2.2, "strokeDash": [9, 3], "interpolate": "monotone"},
      "encoding": {
        "x": {"field": "t", "type": "quantitative", "title": "Turns from \"Snug\" of 5 kips"},
        "y": {"field": "bu", "type": "quantitative", "title": "Bolt Tension, kips"}
      }
    },
    {
      "data": {"name": "bands"},
      "mark": {"type": "line", "color": "#000000", "strokeWidth": 2.5, "strokeDash": [10, 3], "interpolate": "monotone"},
      "encoding": {
        "x": {"field": "t", "type": "quantitative", "title": "Turns from \"Snug\" of 5 kips"},
        "y": {"field": "bl", "type": "quantitative", "title": "Bolt Tension, kips"}
      }
    },
    {
      "data": {"name": "bands"},
      "mark": {"type": "line", "color": "#000000", "strokeWidth": 3.2, "strokeDash": [18, 9], "interpolate": "monotone"},
      "encoding": {
        "x": {"field": "t", "type": "quantitative", "title": "Turns from \"Snug\" of 5 kips"},
        "y": {"field": "ba", "type": "quantitative", "title": "Bolt Tension, kips"}
      }
    },
    {
      "data": {"name": "bands"},
      "mark": {"type": "line", "color": "#000000", "strokeWidth": 2, "interpolate": "monotone"},
      "encoding": {
        "x": {"field": "t", "type": "quantitative", "title": "Turns from \"Snug\" of 5 kips"},
        "y": {"field": "fu", "type": "quantitative", "title": "Bolt Tension, kips"}
      }
    },
    {
      "data": {"name": "bands"},
      "mark": {"type": "line", "color": "#000000", "strokeWidth": 3, "interpolate": "monotone"},
      "encoding": {
        "x": {"field": "t", "type": "quantitative", "title": "Turns from \"Snug\" of 5 kips"},
        "y": {"field": "fa", "type": "quantitative", "title": "Bolt Tension, kips"}
      }
    },
    {
      "data": {"name": "rules"},
      "mark": {"type": "rule", "color": "#000000", "strokeWidth": 1.2},
      "encoding": {
        "x": {"field": "t1", "type": "quantitative", "title": "Turns from \"Snug\" of 5 kips"},
        "x2": {"field": "t2"},
        "y": {"field": "k1", "type": "quantitative", "title": "Bolt Tension, kips"},
        "y2": {"field": "k2"}
      }
    },
    {
      "data": {"name": "arrows"},
      "mark": {"type": "point", "shape": "wedge", "filled": true, "color": "#000000", "opacity": 1, "size": 110},
      "encoding": {
        "x": {"field": "t", "type": "quantitative", "title": "Turns from \"Snug\" of 5 kips"},
        "y": {"field": "k", "type": "quantitative", "title": "Bolt Tension, kips"},
        "angle": {"field": "a", "type": "quantitative", "scale": null}
      }
    },
    {
      "data": {"name": "swatches"},
      "transform": [{"filter": "datum.kind === 'Flat Surface Tests'"}],
      "mark": {
        "type": "rect", "stroke": "#000000", "strokeWidth": 2,
        "fill": {
          "gradient": "linear", "x1": 0, "y1": 1, "x2": 1, "y2": 0,
          "stops": [
            {"offset": 0, "color": "#fff"}, {"offset": 0.016, "color": "#666"}, {"offset": 0.032, "color": "#fff"},
            {"offset": 0.125, "color": "#fff"}, {"offset": 0.141, "color": "#666"}, {"offset": 0.157, "color": "#fff"},
            {"offset": 0.25, "color": "#fff"}, {"offset": 0.266, "color": "#666"}, {"offset": 0.282, "color": "#fff"},
            {"offset": 0.375, "color": "#fff"}, {"offset": 0.391, "color": "#666"}, {"offset": 0.407, "color": "#fff"},
            {"offset": 0.5, "color": "#fff"}, {"offset": 0.516, "color": "#666"}, {"offset": 0.532, "color": "#fff"},
            {"offset": 0.625, "color": "#fff"}, {"offset": 0.641, "color": "#666"}, {"offset": 0.657, "color": "#fff"},
            {"offset": 0.75, "color": "#fff"}, {"offset": 0.766, "color": "#666"}, {"offset": 0.782, "color": "#fff"},
            {"offset": 0.875, "color": "#fff"}, {"offset": 0.891, "color": "#666"}, {"offset": 0.907, "color": "#fff"},
            {"offset": 1, "color": "#fff"}
          ]
        }
      },
      "encoding": {
        "x": {"field": "t1", "type": "quantitative", "title": "Turns from \"Snug\" of 5 kips"},
        "x2": {"field": "t2"},
        "y": {"field": "k1", "type": "quantitative", "title": "Bolt Tension, kips"},
        "y2": {"field": "k2"}
      }
    },
    {
      "data": {"name": "swatches"},
      "transform": [{"filter": "datum.kind !== 'Flat Surface Tests'"}],
      "mark": {
        "type": "rect", "stroke": "#000000", "strokeWidth": 2,
        "fill": {
          "gradient": "linear", "x1": 0, "y1": 0, "x2": 1, "y2": 1,
          "stops": [
            {"offset": 0, "color": "#fff"}, {"offset": 0.016, "color": "#000"}, {"offset": 0.032, "color": "#fff"},
            {"offset": 0.0625, "color": "#fff"}, {"offset": 0.0785, "color": "#000"}, {"offset": 0.0945, "color": "#fff"},
            {"offset": 0.125, "color": "#fff"}, {"offset": 0.141, "color": "#000"}, {"offset": 0.157, "color": "#fff"},
            {"offset": 0.1875, "color": "#fff"}, {"offset": 0.2035, "color": "#000"}, {"offset": 0.2195, "color": "#fff"},
            {"offset": 0.25, "color": "#fff"}, {"offset": 0.266, "color": "#000"}, {"offset": 0.282, "color": "#fff"},
            {"offset": 0.3125, "color": "#fff"}, {"offset": 0.3285, "color": "#000"}, {"offset": 0.3445, "color": "#fff"},
            {"offset": 0.375, "color": "#fff"}, {"offset": 0.391, "color": "#000"}, {"offset": 0.407, "color": "#fff"},
            {"offset": 0.4375, "color": "#fff"}, {"offset": 0.4535, "color": "#000"}, {"offset": 0.4695, "color": "#fff"},
            {"offset": 0.5, "color": "#fff"}, {"offset": 0.516, "color": "#000"}, {"offset": 0.532, "color": "#fff"},
            {"offset": 0.5625, "color": "#fff"}, {"offset": 0.5785, "color": "#000"}, {"offset": 0.5945, "color": "#fff"},
            {"offset": 0.625, "color": "#fff"}, {"offset": 0.641, "color": "#000"}, {"offset": 0.657, "color": "#fff"},
            {"offset": 0.6875, "color": "#fff"}, {"offset": 0.7035, "color": "#000"}, {"offset": 0.7195, "color": "#fff"},
            {"offset": 0.75, "color": "#fff"}, {"offset": 0.766, "color": "#000"}, {"offset": 0.782, "color": "#fff"},
            {"offset": 0.8125, "color": "#fff"}, {"offset": 0.8285, "color": "#000"}, {"offset": 0.8445, "color": "#fff"},
            {"offset": 0.875, "color": "#fff"}, {"offset": 0.891, "color": "#000"}, {"offset": 0.907, "color": "#fff"},
            {"offset": 0.9375, "color": "#fff"}, {"offset": 0.9535, "color": "#000"}, {"offset": 0.9695, "color": "#fff"},
            {"offset": 1, "color": "#fff"}
          ]
        }
      },
      "encoding": {
        "x": {"field": "t1", "type": "quantitative", "title": "Turns from \"Snug\" of 5 kips"},
        "x2": {"field": "t2"},
        "y": {"field": "k1", "type": "quantitative", "title": "Bolt Tension, kips"},
        "y2": {"field": "k2"}
      }
    },
    {
      "data": {"name": "labelsC"},
      "mark": {"type": "text", "font": "DejaVu Sans Mono", "fontWeight": "bold", "fontSize": 17, "align": "center", "baseline": "middle", "color": "#000000"},
      "encoding": {
        "x": {"field": "t", "type": "quantitative", "title": "Turns from \"Snug\" of 5 kips"},
        "y": {"field": "k", "type": "quantitative", "title": "Bolt Tension, kips"},
        "text": {"field": "text", "type": "nominal"}
      }
    },
    {
      "data": {"name": "labelsL"},
      "mark": {"type": "text", "font": "DejaVu Sans Mono", "fontWeight": "bold", "fontSize": 17, "align": "left", "baseline": "middle", "color": "#000000"},
      "encoding": {
        "x": {"field": "t", "type": "quantitative", "title": "Turns from \"Snug\" of 5 kips"},
        "y": {"field": "k", "type": "quantitative", "title": "Bolt Tension, kips"},
        "text": {"field": "text", "type": "nominal"}
      }
    }
  ]
}
